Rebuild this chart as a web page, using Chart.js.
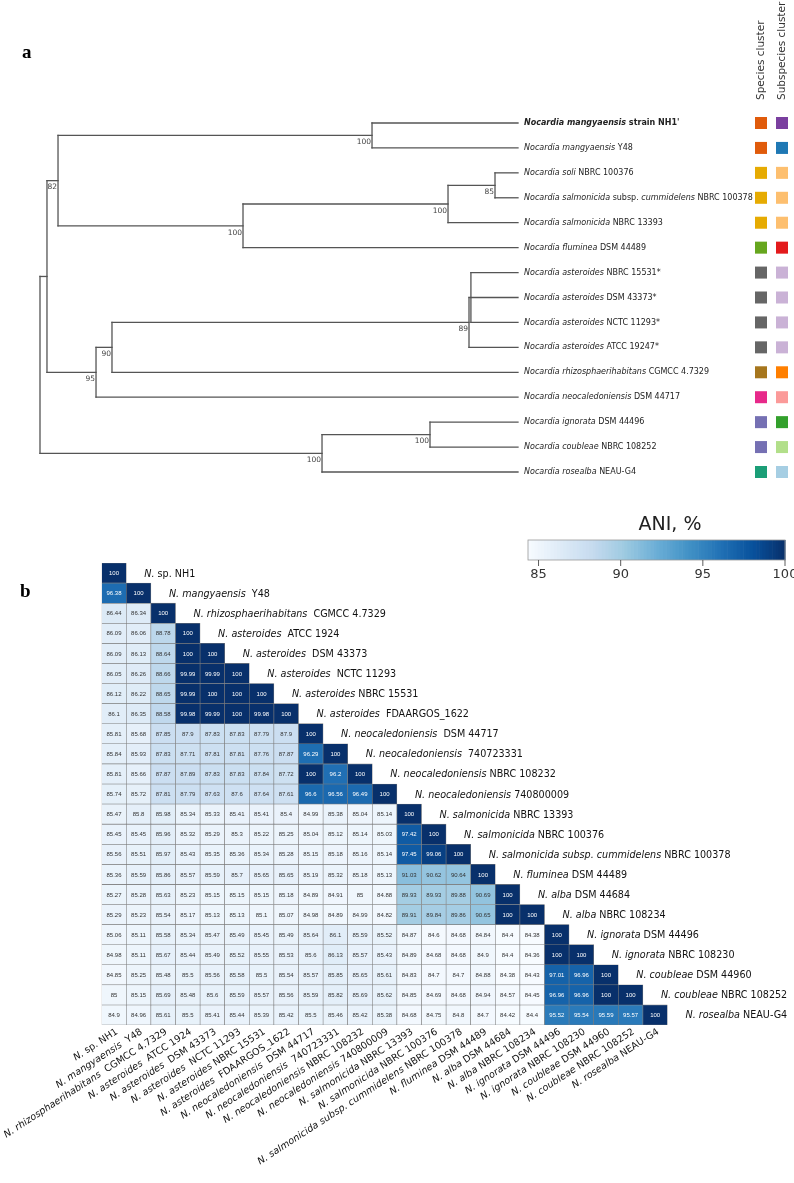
<!DOCTYPE html>
<html>
<head>
<meta charset="utf-8">
<script src="https://cdn.jsdelivr.net/npm/chart.js@4.4.1/dist/chart.umd.min.js"></script>
<style>
body{margin:0;background:#fff;}
#wrap{position:relative;width:794px;height:1183px;overflow:hidden;background:#fff;}
canvas{position:absolute;left:0;}
#tree{top:0;}
#ani{top:480px;}
</style>
</head>
<body>
<div id="wrap">
<canvas id="tree" width="794" height="480"></canvas>
<canvas id="ani" width="794" height="703"></canvas>
</div>
<script>
// ---- panel a : tree ----
// text between | | is italic
var treeLeaves = [
	"|Nocardia mangyaensis| strain NH1'",
	"|Nocardia mangyaensis| Y48",
	"|Nocardia soli| NBRC 100376",
	"|Nocardia salmonicida| subsp. |cummidelens| NBRC 100378",
	"|Nocardia salmonicida| NBRC 13393",
	"|Nocardia fluminea| DSM 44489",
	"|Nocardia asteroides| NBRC 15531*",
	"|Nocardia asteroides| DSM 43373*",
	"|Nocardia asteroides| NCTC 11293*",
	"|Nocardia asteroides| ATCC 19247*",
	"|Nocardia rhizosphaerihabitans| CGMCC 4.7329",
	"|Nocardia neocaledoniensis| DSM 44717",
	"|Nocardia ignorata| DSM 44496",
	"|Nocardia coubleae| NBRC 108252",
	"|Nocardia rosealba| NEAU-G4"
];
var speciesCluster = ["#e05b0b","#e05b0b","#e6ab02","#e6ab02","#e6ab02","#66a61e","#666666","#666666","#666666","#666666","#a6761d","#e7298a","#7570b3","#7570b3","#1b9e77"];
var subspeciesCluster = ["#7a3f9f","#1f78b4","#fdbf6f","#fdbf6f","#fdbf6f","#e31a1c","#cab2d6","#cab2d6","#cab2d6","#cab2d6","#ff7f00","#fb9a99","#33a02c","#b2df8a","#a6cee3"];
var clusterHeaders = ["Species cluster", "Subspecies cluster"];

// internal nodes: depth (leaf tips = 1), children (numbers = leaf index), bootstrap
var treeNodes = {
	root:  {depth: 0,      kids: ["nTop", "nA"],    support: ""},
	nTop:  {depth: 0.0146, kids: ["n82", "n95"],    support: ""},
	n82:   {depth: 0.0377, kids: ["nNH1", "nFlum"], support: "82"},
	nNH1:  {depth: 0.6946, kids: [0, 1],            support: "100"},
	nFlum: {depth: 0.4247, kids: ["nSalm", 5],      support: "100"},
	nSalm: {depth: 0.8536, kids: ["nSoli", 4],      support: "100"},
	nSoli: {depth: 0.9519, kids: [2, 3],            support: "85"},
	n95:   {depth: 0.1172, kids: ["n90", 11],       support: "95"},
	n90:   {depth: 0.1506, kids: ["n89", 10],       support: "90"},
	n89:   {depth: 0.8975, kids: ["nAst", 9],       support: "89"},
	nAst:  {depth: 0.9015, kids: [6, 7, 8],         support: ""},
	nA:    {depth: 0.59,   kids: ["nB", 14],        support: "100"},
	nB:    {depth: 0.8159, kids: [12, 13],          support: "100"}
};

// ---- panel b : ANI heatmap ----
var aniNames = [
	"|N.| sp. NH1",
	"|N. mangyaensis|  Y48",
	"|N. rhizosphaerihabitans|  CGMCC 4.7329",
	"|N. asteroides|  ATCC 1924",
	"|N. asteroides|  DSM 43373",
	"|N. asteroides|  NCTC 11293",
	"|N. asteroides| NBRC 15531",
	"|N. asteroides|  FDAARGOS_1622",
	"|N. neocaledoniensis|  DSM 44717",
	"|N. neocaledoniensis|  740723331",
	"|N. neocaledoniensis| NBRC 108232",
	"|N. neocaledoniensis| 740800009",
	"|N. salmonicida| NBRC 13393",
	"|N. salmonicida| NBRC 100376",
	"|N. salmonicida subsp. cummidelens| NBRC 100378",
	"|N. fluminea| DSM 44489",
	"|N. alba| DSM 44684",
	"|N. alba| NBRC 108234",
	"|N. ignorata| DSM 44496",
	"|N. ignorata| NBRC 108230",
	"|N. coubleae| DSM 44960",
	"|N. coubleae| NBRC 108252",
	"|N. rosealba| NEAU-G4"
];
var aniRows = [
	[100],
	[96.38, 100],
	[86.44, 86.34, 100],
	[86.09, 86.06, 88.78, 100],
	[86.09, 86.13, 88.64, 100, 100],
	[86.05, 86.26, 88.66, 99.99, 99.99, 100],
	[86.12, 86.22, 88.65, 99.99, 100, 100, 100],
	[86.1, 86.35, 88.58, 99.98, 99.99, 100, 99.98, 100],
	[85.81, 85.68, 87.85, 87.9, 87.83, 87.83, 87.79, 87.9, 100],
	[85.84, 85.93, 87.83, 87.71, 87.81, 87.81, 87.76, 87.87, 96.29, 100],
	[85.81, 85.66, 87.87, 87.89, 87.83, 87.83, 87.84, 87.72, 100, 96.2, 100],
	[85.74, 85.72, 87.81, 87.79, 87.63, 87.6, 87.64, 87.61, 96.6, 96.56, 96.49, 100],
	[85.47, 85.8, 85.98, 85.34, 85.33, 85.41, 85.41, 85.4, 84.99, 85.38, 85.04, 85.14, 100],
	[85.45, 85.45, 85.96, 85.32, 85.29, 85.3, 85.22, 85.25, 85.04, 85.12, 85.14, 85.03, 97.42, 100],
	[85.56, 85.51, 85.97, 85.43, 85.35, 85.36, 85.34, 85.28, 85.15, 85.18, 85.16, 85.14, 97.45, 99.06, 100],
	[85.36, 85.59, 85.86, 85.57, 85.59, 85.7, 85.65, 85.65, 85.19, 85.32, 85.18, 85.13, 91.03, 90.62, 90.64, 100],
	[85.27, 85.28, 85.63, 85.23, 85.15, 85.15, 85.15, 85.18, 84.89, 84.91, 85, 84.88, 89.93, 89.93, 89.88, 90.69, 100],
	[85.29, 85.23, 85.54, 85.17, 85.13, 85.13, 85.1, 85.07, 84.98, 84.89, 84.99, 84.82, 89.91, 89.84, 89.86, 90.65, 100, 100],
	[85.06, 85.11, 85.58, 85.34, 85.47, 85.49, 85.45, 85.49, 85.64, 86.1, 85.59, 85.52, 84.87, 84.6, 84.68, 84.84, 84.4, 84.38, 100],
	[84.98, 85.11, 85.67, 85.44, 85.49, 85.52, 85.55, 85.53, 85.6, 86.13, 85.57, 85.43, 84.89, 84.68, 84.68, 84.9, 84.4, 84.36, 100, 100],
	[84.85, 85.25, 85.48, 85.5, 85.56, 85.58, 85.5, 85.54, 85.57, 85.85, 85.65, 85.61, 84.83, 84.7, 84.7, 84.88, 84.38, 84.43, 97.01, 96.96, 100],
	[85, 85.15, 85.69, 85.48, 85.6, 85.59, 85.57, 85.56, 85.59, 85.82, 85.69, 85.62, 84.85, 84.69, 84.68, 84.94, 84.57, 84.45, 96.96, 96.96, 100, 100],
	[84.9, 84.96, 85.61, 85.5, 85.41, 85.44, 85.39, 85.42, 85.5, 85.46, 85.42, 85.38, 84.68, 84.75, 84.8, 84.7, 84.42, 84.4, 95.52, 95.54, 95.59, 95.57, 100]
];
var colorbarTicks = [85, 90, 95, 100];
var colorbarTitle = "ANI, %";

// matplotlib Blues
var bluesStops = [[247,251,255],[222,235,247],[198,219,239],[158,202,225],[107,174,214],[66,146,198],[33,113,181],[8,81,156],[8,48,107]];
var aniMin = Math.min.apply(null, aniRows.map(function(r){ return Math.min.apply(null, r); }));
var aniMax = 100;

function blues(t){
	t = Math.max(0, Math.min(1, t));
	var p = t * 8, i = Math.min(7, Math.floor(p)), f = p - i;
	var a = bluesStops[i], b = bluesStops[i+1];
	return 'rgb(' + Math.round(a[0]+(b[0]-a[0])*f) + ',' + Math.round(a[1]+(b[1]-a[1])*f) + ',' + Math.round(a[2]+(b[2]-a[2])*f) + ')';
}
function aniT(v){ return (v - aniMin) / (aniMax - aniMin); }

// draws "|italic| normal" text, returns width
function richText(ctx, text, x, y, size, family, bold, align){
	var parts = text.split('|');
	var w = 0, widths = [];
	for (var k = 0; k < parts.length; k++){
		ctx.font = (k % 2 ? 'italic ' : '') + (bold ? 'bold ' : '') + size + 'px ' + family;
		widths.push(ctx.measureText(parts[k]).width);
		w += widths[k];
	}
	var cx = align === 'right' ? x - w : x;
	ctx.textAlign = 'left';
	for (k = 0; k < parts.length; k++){
		ctx.font = (k % 2 ? 'italic ' : '') + (bold ? 'bold ' : '') + size + 'px ' + family;
		ctx.fillText(parts[k], cx, y);
		cx += widths[k];
	}
	return w;
}

// tree geometry from the node table
var yMemo = {};
function nodeY(n){
	if (typeof n === 'number') return n;
	if (yMemo[n] !== undefined) return yMemo[n];
	var k = treeNodes[n].kids;
	yMemo[n] = (nodeY(k[0]) + nodeY(k[k.length-1])) / 2;
	return yMemo[n];
}
function nodeDepth(n){ return typeof n === 'number' ? 1 : treeNodes[n].depth; }

var treeSegments = [];
Object.keys(treeNodes).forEach(function(id){
	var nd = treeNodes[id], k = nd.kids;
	treeSegments.push([{x: nd.depth, y: nodeY(k[0])}, {x: nd.depth, y: nodeY(k[k.length-1])}]);
	k.forEach(function(c){
		treeSegments.push([{x: nd.depth, y: nodeY(c)}, {x: nodeDepth(c), y: nodeY(c)}]);
	});
});

var treeFont = '"DejaVu Sans"';

var treeText = {
	id: 'treeText',
	afterDatasetsDraw: function(chart){
		var ctx = chart.ctx, xs = chart.scales.x, ys = chart.scales.y;
		ctx.save();
		ctx.textBaseline = 'middle';
		var tip = xs.getPixelForValue(1);
		treeLeaves.forEach(function(lab, i){
			var y = ys.getPixelForValue(i);
			ctx.fillStyle = '#222';
			richText(ctx, lab, tip + 6, y, 8, treeFont, i === 0, 'left');
			ctx.fillStyle = speciesCluster[i];
			ctx.fillRect(755, y - 6, 12, 12);
			ctx.fillStyle = subspeciesCluster[i];
			ctx.fillRect(776, y - 6, 12, 12);
		});
		// bootstrap values
		ctx.fillStyle = '#444';
		ctx.font = '7.5px ' + treeFont;
		ctx.textAlign = 'right';
		ctx.textBaseline = 'top';
		Object.keys(treeNodes).forEach(function(id){
			var nd = treeNodes[id];
			if (!nd.support) return;
			ctx.fillText(nd.support, xs.getPixelForValue(nd.depth) - 1, ys.getPixelForValue(nodeY(id)) + 3);
		});
		// column headers
		ctx.fillStyle = '#333';
		ctx.font = '10.5px ' + treeFont;
		ctx.textAlign = 'left';
		ctx.textBaseline = 'middle';
		[761, 782].forEach(function(x, j){
			ctx.save();
			ctx.translate(x, 100);
			ctx.rotate(-Math.PI / 2);
			ctx.fillText(clusterHeaders[j], 0, 0);
			ctx.restore();
		});
		ctx.fillStyle = '#000';
		ctx.font = 'bold 19px "Liberation Serif"';
		ctx.textBaseline = 'alphabetic';
		ctx.fillText('a', 22, 58);
		ctx.restore();
	}
};

new Chart(document.getElementById('tree'), {
	type: 'scatter',
	data: {
		datasets: treeSegments.map(function(s){
			return {data: s, showLine: true, borderColor: '#555', borderWidth: 1.3, pointRadius: 0, borderCapStyle: 'square', clip: false};
		})
	},
	options: {
		responsive: false,
		animation: false,
		events: [],
		layout: {padding: {left: 40, right: 276, top: 123, bottom: 8}},
		scales: {
			x: {type: 'linear', min: 0, max: 1, display: false},
			y: {type: 'linear', min: 0, max: treeLeaves.length - 1, reverse: true, display: false}
		},
		plugins: {legend: {display: false}, tooltip: {enabled: false}}
	},
	plugins: [treeText]
});

// ---- heatmap chart ----
var heatFont = '"DejaVu Sans"';
var heatSize = 9.6;
var heatText = {
	id: 'heatText',
	afterDatasetsDraw: function(chart){
		var ctx = chart.ctx, xs = chart.scales.x, ys = chart.scales.y, area = chart.chartArea;
		var cw = (area.right - area.left) / aniNames.length;
		ctx.save();
		// values in cells
		ctx.textAlign = 'center';
		ctx.textBaseline = 'middle';
		ctx.font = '6px "Liberation Sans"';
		aniRows.forEach(function(row, r){
			row.forEach(function(v, c){
				ctx.fillStyle = aniT(v) > 0.6 ? '#ffffff' : '#333333';
				ctx.fillText(String(v), xs.getPixelForValue(c), ys.getPixelForValue(r) + 0.5);
			});
		});
		// labels along the diagonal
		ctx.fillStyle = '#111';
		aniNames.forEach(function(n, r){
			richText(ctx, n, xs.getPixelForValue(r) + cw / 2 + 18, ys.getPixelForValue(r) + 1, heatSize, heatFont, false, 'left');
		});
		// labels under the columns
		aniNames.forEach(function(n, c){
			ctx.save();
			ctx.translate(xs.getPixelForValue(c) + 3, area.bottom + 6);
			ctx.rotate(-33 * Math.PI / 180);
			richText(ctx, n, 0, 0, heatSize, heatFont, false, 'right');
			ctx.restore();
		});
		// colour bar
		var cbL = 528, cbR = 785, cbT = 60, cbB = 80;
		var steps = 80;
		for (var s = 0; s < steps; s++){
			ctx.fillStyle = blues((s + 0.5) / steps);
			ctx.fillRect(cbL + (cbR - cbL) * s / steps, cbT, (cbR - cbL) / steps + 0.6, cbB - cbT);
		}
		ctx.strokeStyle = '#999';
		ctx.lineWidth = 0.8;
		ctx.strokeRect(cbL, cbT, cbR - cbL, cbB - cbT);
		ctx.strokeStyle = '#333';
		ctx.fillStyle = '#333';
		ctx.font = '13px ' + heatFont;
		ctx.textAlign = 'center';
		ctx.textBaseline = 'top';
		colorbarTicks.forEach(function(t){
			var x = cbL + (cbR - cbL) * aniT(t);
			ctx.beginPath();
			ctx.moveTo(x, cbB);
			ctx.lineTo(x, cbB + 6);
			ctx.stroke();
			ctx.fillText(String(t), x, cbB + 8);
		});
		ctx.font = '19px ' + heatFont;
		ctx.textBaseline = 'middle';
		ctx.fillStyle = '#222';
		ctx.fillText(colorbarTitle, 670, 45);
		ctx.fillStyle = '#000';
		ctx.font = 'bold 19px "Liberation Serif"';
		ctx.textAlign = 'left';
		ctx.textBaseline = 'alphabetic';
		ctx.fillText('b', 20, 117);
		ctx.restore();
	}
};

new Chart(document.getElementById('ani'), {
	type: 'bar',
	data: {
		labels: aniNames.map(function(n, i){ return i; }),
		datasets: aniRows.map(function(row, r){
			return {
				data: aniNames.map(function(n, c){ return c <= r ? [r - 0.5, r + 0.5] : null; }),
				backgroundColor: aniNames.map(function(n, c){ return c <= r ? blues(aniT(row[c])) : 'rgba(0,0,0,0)'; }),
				borderColor: '#7d7d7d',
				borderWidth: 0.6,
				borderSkipped: false,
				grouped: false,
				categoryPercentage: 1,
				barPercentage: 1
			};
		})
	},
	options: {
		responsive: false,
		animation: false,
		events: [],
		layout: {padding: {left: 101.7, right: 126.5, top: 83, bottom: 158}},
		scales: {
			x: {type: 'category', display: false},
			y: {type: 'linear', min: -0.5, max: aniNames.length - 0.5, reverse: true, display: false}
		},
		plugins: {legend: {display: false}, tooltip: {enabled: false}}
	},
	plugins: [heatText]
});
</script>
</body>
</html>
